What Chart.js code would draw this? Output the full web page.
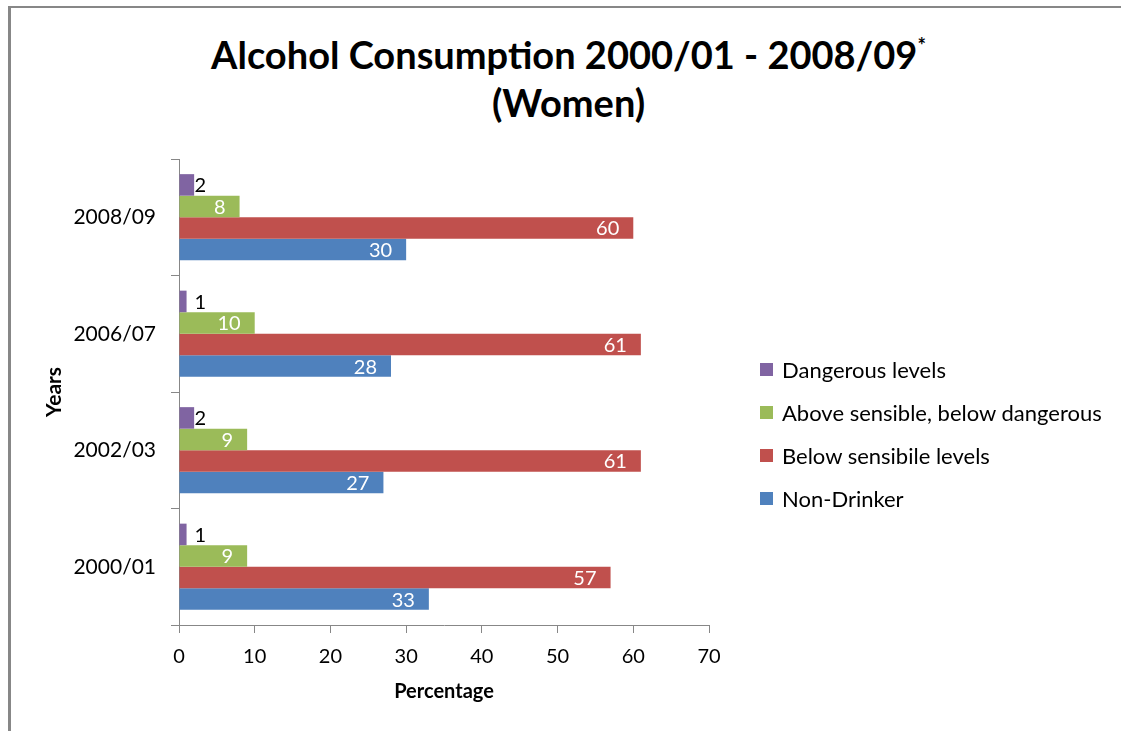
<!DOCTYPE html>
<html>
<head>
<meta charset="utf-8">
<title>Alcohol Consumption (Women)</title>
<script src="https://cdn.jsdelivr.net/npm/chart.js@4/dist/chart.umd.min.js"></script>
<style>
  body { margin: 0; background: #fff; font-family: Lato, sans-serif; }
  #wrap { position: relative; width: 1121px; height: 731px; overflow: hidden; }
  #frame {
    position: absolute; left: 8px; top: 6px; width: 1200px; height: 800px;
    border-left: 3px solid #878787; border-top: 2px solid #878787;
  }
  #title {
    position: absolute; top: 30px; left: 8px; width: 1121px;
    text-align: center; font-weight: bold; font-size: 38px; line-height: 48px; color: #000;
  }
  #title sup { font-size: 20px; line-height: 0; vertical-align: 16px; }
  #holder { position: absolute; left: 0; top: 0; width: 1121px; height: 731px; }
  #legend {
    position: absolute; left: 760px; top: 348px; margin: 0; padding: 0; list-style: none;
    font-size: 22px; color: #000;
  }
  #legend li { display: flex; align-items: center; height: 43px; white-space: nowrap; }
  #legend span.box { width: 13px; height: 13px; margin-right: 9px; }
</style>
</head>
<body>
<div id="wrap">
  <div id="frame"></div>
  <div id="title">Alcohol Consumption 2000/01 - 2008/09<sup>*</sup><br>(Women)</div>
  <div id="holder"><canvas id="chart"></canvas></div>
  <ul id="legend"></ul>
</div>
<script>
// categories, listed top to bottom as drawn
const years = ["2008/09", "2006/07", "2002/03", "2000/01"]

// percentages per series, same order as years
const dangerous = [2, 1, 2, 1]
const aboveSensible = [8, 10, 9, 9]
const belowSensible = [60, 61, 61, 57]
const nonDrinker = [30, 28, 27, 33]

const seriesNames = [
  "Dangerous levels",
  "Above sensible, below dangerous",
  "Below sensibile levels",
  "Non-Drinker",
]

const percentTicks = [0, 10, 20, 30, 40, 50, 60, 70]

const axisGrey = "#878787"

const series = [
  { data: dangerous, color: "#8064A2", outside: true },
  { data: aboveSensible, color: "#9BBB59" },
  { data: belowSensible, color: "#C0504D" },
  { data: nonDrinker, color: "#4F81BD" },
]

/**
 * value labels: white at the inner end of the bar,
 * black just past the end for the thin purple bars
 */
const barLabels = {
  id: "barLabels",
  afterDatasetsDraw(chart) {
    const ctx = chart.ctx
    ctx.save()
    ctx.font = "20px Lato, sans-serif"
    ctx.textBaseline = "middle"
    chart.data.datasets.forEach((ds, i) => {
      chart.getDatasetMeta(i).data.forEach((bar, j) => {
        const text = String(ds.data[j])
        if (ds.labelOutside) {
          ctx.fillStyle = "#000"
          ctx.textAlign = "left"
          ctx.fillText(text, Math.max(bar.x, bar.base + 15), bar.y + 1)
        } else {
          ctx.fillStyle = "#fff"
          ctx.textAlign = "right"
          ctx.fillText(text, bar.x - 14, bar.y + 1)
        }
      })
    })
    ctx.restore()
  },
}

const chart = new Chart(document.getElementById("chart"), {
  type: "bar",
  data: {
    labels: years,
    datasets: series.map((s, i) => ({
      label: seriesNames[i],
      data: s.data,
      backgroundColor: s.color,
      borderWidth: 0,
      labelOutside: !!s.outside,
      categoryPercentage: 0.74,
      barPercentage: 1.0,
    })),
  },
  options: {
    indexAxis: "y",
    responsive: true,
    maintainAspectRatio: false,
    animation: false,
    layout: {
      padding: { top: 159, right: 412, bottom: 21, left: 42 },
    },
    plugins: {
      legend: { display: false },
      title: { display: false },
      tooltip: { enabled: false },
    },
    scales: {
      x: {
        min: percentTicks[0],
        max: percentTicks[percentTicks.length - 1],
        afterFit: (scale) => {
          scale.height = 85
        },
        ticks: {
          stepSize: percentTicks[1] - percentTicks[0],
          color: "#000",
          padding: 12,
          font: { family: "Lato", size: 20 },
        },
        grid: { drawOnChartArea: false, tickLength: 8, color: axisGrey },
        border: { color: axisGrey },
        title: {
          display: true,
          text: "Percentage",
          color: "#000",
          font: { family: "Lato", size: 20, weight: "bold" },
          padding: { top: 10, bottom: 6 },
        },
      },
      y: {
        afterFit: (scale) => {
          scale.width = 137
        },
        ticks: {
          color: "#000",
          padding: 15,
          font: { family: "Lato", size: 21 },
        },
        grid: { drawOnChartArea: false, tickLength: 8, color: axisGrey },
        border: { color: axisGrey },
        title: {
          display: true,
          text: "Years",
          color: "#000",
          font: { family: "Lato", size: 21, weight: "bold" },
          padding: { top: 0, bottom: 8 },
        },
      },
    },
  },
  plugins: [barLabels],
})

// legend built from the chart's own legend items
const legendList = document.getElementById("legend")
chart.options.plugins.legend.labels.generateLabels(chart).forEach((item) => {
  const li = document.createElement("li")
  const box = document.createElement("span")
  box.className = "box"
  box.style.background = item.fillStyle
  li.appendChild(box)
  li.appendChild(document.createTextNode(item.text))
  legendList.appendChild(li)
})
</script>
</body>
</html>
